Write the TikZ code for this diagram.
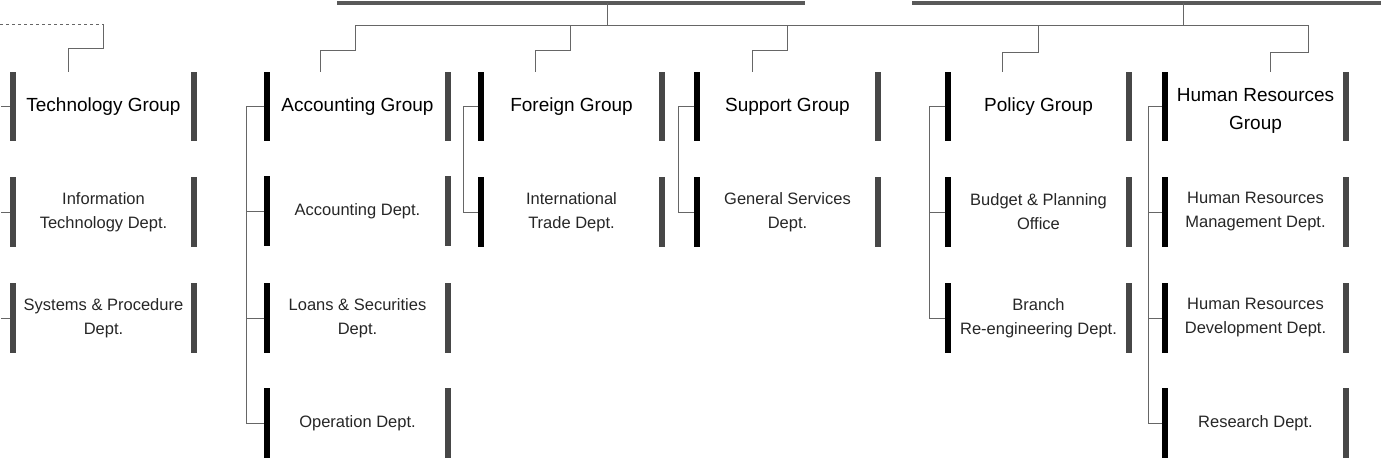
\documentclass[tikz,border=0pt]{standalone}
\usepackage{fontspec}
\setmainfont{Liberation Sans}
\usetikzlibrary{calc}
\newcommand{\drawbars}[3]{%
  \fill[#2] (#1.north west) rectangle ($(#1.south west)+(6,0)$);
  \fill[#3] ($(#1.north east)+(-6,0)$) rectangle (#1.south east);}
\begin{document}
\begin{tikzpicture}[x=1pt,y=-1pt,
  grp/.style={minimum width=186pt, minimum height=69pt, inner sep=0pt, align=center, font=\fontsize{19}{28}\selectfont},
  grptext/.style={inner sep=0pt, align=center, font=\fontsize{19}{28}\selectfont},
  dept/.style={minimum width=186pt, minimum height=69pt, inner sep=0pt, align=center, font=\fontsize{16.5}{24}\selectfont, text=black!85},
  conn/.style={draw=black!60, line width=0.8pt},
  busline/.style={draw=black!65, line width=3.5pt},
]
\useasboundingbox (0,0) rectangle (1381,466);
% groups
\node[grp] (tech) at (103.5,106.5) {Technology Group};
\node[grp] (acc)  at (357.5,106.5) {Accounting Group};
\node[grp] (for)  at (571.5,106.5) {Foreign Group};
\node[grp] (sup)  at (787.5,106.5) {Support Group};
\node[grp] (pol)  at (1038.5,106.5) {Policy Group};
\node[grp] (hr)   at (1255.5,106.5) {};
\node[grptext] (hrtext) at (1255.5,111) {Human Resources\\Group};
% departments
\node[dept] (tech1) at (103.5,212) {Information\\Technology Dept.};
\node[dept] (tech2) at (103.5,318) {Systems \& Procedure\\Dept.};
\node[dept] (acc1) at (357.5,211) {Accounting Dept.};
\node[dept] (acc2) at (357.5,318) {Loans \& Securities\\Dept.};
\node[dept] (acc3) at (357.5,423) {Operation Dept.};
\node[dept] (for1) at (571.5,212) {International\\Trade Dept.};
\node[dept] (sup1) at (787.5,212) {General Services\\Dept.};
\node[dept] (pol1) at (1038.5,212) {Budget \& Planning\\Office};
\node[dept] (pol2) at (1038.5,318) {Branch\\Re-engineering Dept.};
\node[dept] (hr1) at (1255.5,212) {Human Resources\\Management Dept.};
\node[dept] (hr2) at (1255.5,318) {Human Resources\\Development Dept.};
\node[dept] (hr3) at (1255.5,423) {Research Dept.};
% bars
\foreach \n in {tech,tech1,tech2}{\drawbars{\n}{black!72}{black!72}}
\foreach \n in {acc,acc1,acc2,acc3,for,for1,sup,sup1,pol,pol1,pol2,hr,hr1,hr2,hr3}{\drawbars{\n}{black}{black!72}}
% top bus
\coordinate (b1s) at (337,3); \coordinate (b1e) at (805,3);
\coordinate (b2s) at (912,3); \coordinate (b2e) at (1381,3);
\draw[busline] (b1s) -- (b1e);
\draw[busline] (b2s) -- (b2e);
\coordinate (j1) at (607,3); \coordinate (j2) at (1183,3);
\coordinate (hl) at (355,25); \coordinate (hr0) at (1308,25);
\draw[conn] (j1) -- (j1 |- hl);
\draw[conn] (j2) -- (j2 |- hl);
\draw[conn] (hl) -- (hr0);
% drops to groups
\draw[conn] (hl) -- ++(0,25) -| ($(acc.north)+(-37.5,0)$);
\draw[conn] (570,25) -- (570,50) -| ($(for.north)+(-36.5,0)$);
\draw[conn] (787,25) -- (787,50) -| ($(sup.north)+(-35.5,0)$);
\draw[conn] (1038,25) -- (1038,52) -| ($(pol.north)+(-36.5,0)$);
\draw[conn] (hr0) -- ++(0,27) -| ($(hr.north)+(14.5,0)$);
\coordinate (tl) at (0,24);
\draw[conn,dashed] (tl) -- (103,24);
\draw[conn] (103,24) -- (103,48) -| ($(tech.north)+(-35.5,0)$);
% children connectors
\foreach \n in {tech,tech1,tech2}{\draw[conn] (\n.west) -- ++(-9,0);}
\draw[conn] (acc.west) -- ++(-18,0) |- (acc3.west);
\foreach \n in {acc1,acc2}{\draw[conn] (\n.west) -- ++(-18,0);}
\draw[conn] (for.west) -- ++(-15,0) |- (for1.west);
\draw[conn] (sup.west) -- ++(-16,0) |- (sup1.west);
\draw[conn] (pol.west) -- ++(-16,0) |- (pol2.west);
\draw[conn] (pol1.west) -- ++(-16,0);
\draw[conn] (hr.west) -- ++(-14,0) |- (hr3.west);
\foreach \n in {hr1,hr2}{\draw[conn] (\n.west) -- ++(-14,0);}
\end{tikzpicture}
\end{document}
